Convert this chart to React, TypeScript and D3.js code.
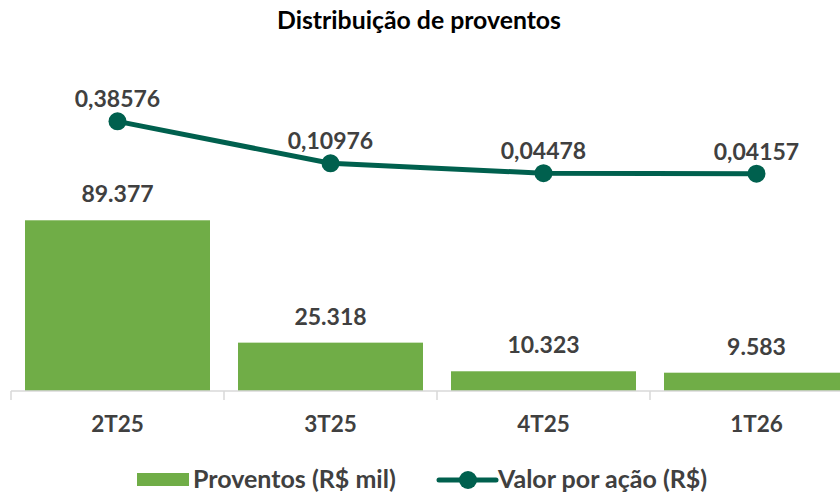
import React from "react";
import * as d3 from "d3";

const categories = ["2T25", "3T25", "4T25", "1T26"];
const proventos = [89377, 25318, 10323, 9583];
const valorPorAcao = [0.38576, 0.10976, 0.04478, 0.04157];
const proventosLabels = ["89.377", "25.318", "10.323", "9.583"];
const valorLabels = ["0,38576", "0,10976", "0,04478", "0,04157"];

const W = 840;
const H = 492;
const BAR = "#70AD47";
const LINE = "#00604E";
const TEXT = "#404040";
const FONT = "Lato, 'Open Sans', sans-serif";

export default function App() {
  const x = d3.scaleBand<string>().domain(categories).range([11, 863]).padding(0);
  const step = x.bandwidth();
  const barInset = 14;
  const barW = step - 28;
  const y = d3.scaleLinear().domain([0, 100000]).range([391, 200]);
  const y2 = d3.scaleLinear().domain([0, 0.5]).range([180, 104]);
  const cx = (c: string) => (x(c) as number) + step / 2;

  const line = d3
    .line<number>()
    .x((_, i) => cx(categories[i]))
    .y((v) => y2(v));

  const boundaries = categories.map((c) => x(c) as number).concat([(x(categories[3]) as number) + step]);

  return (
    <svg
      width={W}
      height={H}
      style={{ position: "absolute", left: 0, top: 0, background: "#fff" }}
      fontFamily={FONT}
      fontWeight={700}
    >
      <text x={419} y={29} textAnchor="middle" fontSize={24.8} fill="#000">
        Distribuição de proventos
      </text>

      {categories.map((c, i) => (
        <rect key={c} x={(x(c) as number) + barInset} y={y(proventos[i])} width={barW} height={y(0) - y(proventos[i])} fill={BAR} />
      ))}

      <line x1={11} x2={W} y1={391} y2={391} stroke="#D9D9D9" strokeWidth={1.5} />
      {boundaries.map((b, i) => (
        <line key={i} x1={b} x2={b} y1={391} y2={400} stroke="#D9D9D9" strokeWidth={1.5} />
      ))}

      {categories.map((c, i) => (
        <text key={c} x={cx(c)} y={y(proventos[i]) - 18} textAnchor="middle" fontSize={23} fill={TEXT}>
          {proventosLabels[i]}
        </text>
      ))}

      <path d={line(valorPorAcao) || ""} fill="none" stroke={LINE} strokeWidth={5} strokeLinejoin="round" />
      {categories.map((c, i) => (
        <circle key={c} cx={cx(c)} cy={y2(valorPorAcao[i])} r={9} fill={LINE} />
      ))}
      {categories.map((c, i) => (
        <text key={c} x={cx(c)} y={y2(valorPorAcao[i]) - 14} textAnchor="middle" fontSize={23} fill={TEXT}>
          {valorLabels[i]}
        </text>
      ))}

      {categories.map((c) => (
        <text key={c} x={cx(c)} y={432} textAnchor="middle" fontSize={22.5} fill={TEXT}>
          {c}
        </text>
      ))}

      <rect x={137} y={473} width={52} height={13} fill={BAR} />
      <text x={193} y={488} fontSize={25} fill={TEXT}>
        Proventos (R$ mil)
      </text>
      <line x1={439} x2={496} y1={480} y2={480} stroke={LINE} strokeWidth={5} strokeLinecap="round" />
      <circle cx={468} cy={480} r={9} fill={LINE} />
      <text x={498} y={488} fontSize={25} fill={TEXT}>
        Valor por ação (R$)
      </text>
    </svg>
  );
}
